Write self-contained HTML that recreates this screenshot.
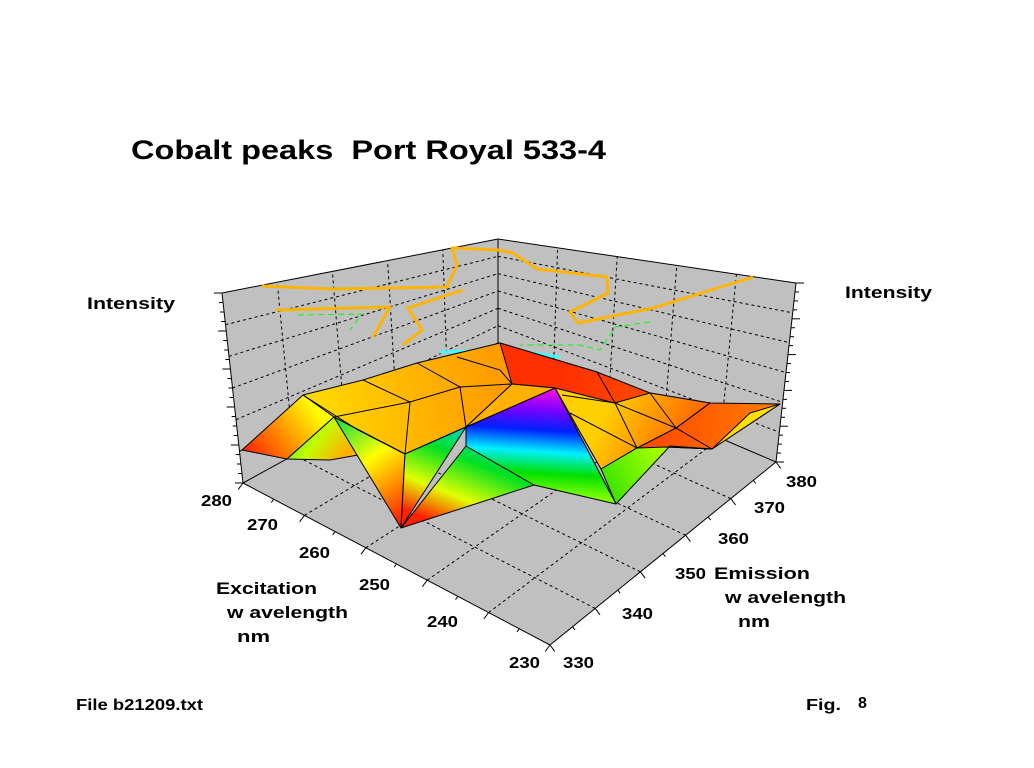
<!DOCTYPE html>
<html><head><meta charset="utf-8"><style>
html,body{margin:0;padding:0;background:#fff;}
svg{display:block;font-family:"Liberation Sans",Arial,sans-serif;font-weight:bold;}
</style></head><body>
<svg id="s" width="1034" height="768" viewBox="0 0 1034 768" xmlns="http://www.w3.org/2000/svg">
<defs>
<linearGradient id="gPeak" x1="555" y1="388" x2="548" y2="495" gradientUnits="userSpaceOnUse">
<stop offset="0" stop-color="#ff10e0"/><stop offset="0.2" stop-color="#8000ff"/><stop offset="0.4" stop-color="#0020ff"/><stop offset="0.6" stop-color="#00f0ff"/><stop offset="0.8" stop-color="#00e000"/><stop offset="1" stop-color="#80ff00"/></linearGradient>
<linearGradient id="gGreenLow" x1="470" y1="420" x2="430" y2="520" gradientUnits="userSpaceOnUse">
<stop offset="0" stop-color="#00d0ff"/><stop offset="0.35" stop-color="#00e020"/><stop offset="0.7" stop-color="#e0ff00"/><stop offset="1" stop-color="#ff2000"/></linearGradient>
<linearGradient id="gValley" x1="340" y1="420" x2="410" y2="520" gradientUnits="userSpaceOnUse">
<stop offset="0" stop-color="#20e040"/><stop offset="0.4" stop-color="#ffff00"/><stop offset="1" stop-color="#ff1000"/></linearGradient>
<linearGradient id="gLeft" x1="242" y1="450" x2="310" y2="400" gradientUnits="userSpaceOnUse">
<stop offset="0" stop-color="#ff2000"/><stop offset="0.5" stop-color="#ff9000"/><stop offset="1" stop-color="#ffff00"/></linearGradient>
<linearGradient id="gBack" x1="300" y1="420" x2="560" y2="380" gradientUnits="userSpaceOnUse">
<stop offset="0" stop-color="#ffe000"/><stop offset="0.5" stop-color="#ffb000"/><stop offset="1" stop-color="#ff8c00"/></linearGradient>
<linearGradient id="gRight" x1="560" y1="390" x2="780" y2="420" gradientUnits="userSpaceOnUse">
<stop offset="0" stop-color="#ff3000"/><stop offset="0.5" stop-color="#ff5000"/><stop offset="1" stop-color="#ff8000"/></linearGradient>
<linearGradient id="gRY" x1="600" y1="420" x2="700" y2="470" gradientUnits="userSpaceOnUse">
<stop offset="0" stop-color="#ffd000"/><stop offset="0.6" stop-color="#ff8000"/><stop offset="1" stop-color="#ff5000"/></linearGradient>
<linearGradient id="gGR" x1="600" y1="490" x2="720" y2="430" gradientUnits="userSpaceOnUse">
<stop offset="0" stop-color="#30e000"/><stop offset="0.5" stop-color="#a0ff00"/><stop offset="1" stop-color="#ffe000"/></linearGradient>
<linearGradient id="gG2" x1="290" y1="420" x2="340" y2="460" gradientUnits="userSpaceOnUse">
<stop offset="0" stop-color="#00e060"/><stop offset="0.5" stop-color="#c0ff00"/><stop offset="1" stop-color="#ffb000"/></linearGradient>
</defs>
<g id="walls"></g>
<g id="surf"></g>
<g id="txt" fill="#000" font-size="17">
<text x="131" y="159" font-size="27" textLength="475" lengthAdjust="spacingAndGlyphs" xml:space="preserve">Cobalt peaks  Port Royal 533-4</text>
<text x="87" y="309" textLength="88" lengthAdjust="spacingAndGlyphs">Intensity</text>
<text x="845" y="298" textLength="87" lengthAdjust="spacingAndGlyphs">Intensity</text>
<text x="216" y="594" textLength="101" lengthAdjust="spacingAndGlyphs">Excitation</text>
<text x="227" y="618" textLength="121" lengthAdjust="spacingAndGlyphs" xml:space="preserve">w avelength</text>
<text x="237" y="642" textLength="33" lengthAdjust="spacingAndGlyphs">nm</text>
<text x="714" y="579" textLength="96" lengthAdjust="spacingAndGlyphs">Emission</text>
<text x="725" y="603" textLength="121" lengthAdjust="spacingAndGlyphs" xml:space="preserve">w avelength</text>
<text x="738" y="627" textLength="32" lengthAdjust="spacingAndGlyphs">nm</text>
<g font-size="16">
<text x="201" y="506" textLength="31" lengthAdjust="spacingAndGlyphs">280</text>
<text x="247" y="530" textLength="31" lengthAdjust="spacingAndGlyphs">270</text>
<text x="299" y="558" textLength="31" lengthAdjust="spacingAndGlyphs">260</text>
<text x="359" y="590" textLength="31" lengthAdjust="spacingAndGlyphs">250</text>
<text x="427" y="627" textLength="31" lengthAdjust="spacingAndGlyphs">240</text>
<text x="509" y="668" textLength="31" lengthAdjust="spacingAndGlyphs">230</text>
<text x="563" y="668" textLength="31" lengthAdjust="spacingAndGlyphs">330</text>
<text x="622" y="619" textLength="31" lengthAdjust="spacingAndGlyphs">340</text>
<text x="675" y="579" textLength="31" lengthAdjust="spacingAndGlyphs">350</text>
<text x="718" y="544" textLength="31" lengthAdjust="spacingAndGlyphs">360</text>
<text x="754" y="513" textLength="31" lengthAdjust="spacingAndGlyphs">370</text>
<text x="786" y="487" textLength="31" lengthAdjust="spacingAndGlyphs">380</text>
<text x="76" y="710" textLength="127" lengthAdjust="spacingAndGlyphs">File b21209.txt</text>
<text x="806" y="710" textLength="35" lengthAdjust="spacingAndGlyphs">Fig.</text>
<text x="858" y="708">8</text>
</g>
</g>
</svg>
<script>
(function(){
var NS="http://www.w3.org/2000/svg";
function el(p,t,a){var e=document.createElementNS(NS,t);for(var k in a)e.setAttribute(k,a[k]);p.appendChild(e);return e;}
var W=document.getElementById('walls'),S=document.getElementById('surf');
var L=[243,483],B=[498,343],R=[776,462],F=[550,645];
var Lt=[222,293],Bt=[498,239],Rt=[796,283];
function lerp(a,b,t){return [a[0]+(b[0]-a[0])*t,a[1]+(b[1]-a[1])*t];}
function pts(a){return a.map(function(p){return p[0].toFixed(1)+','+p[1].toFixed(1)}).join(' ');}
el(W,'polygon',{points:pts([L,B,R,F]),fill:'#c0c0c0'});
el(W,'polygon',{points:pts([L,Lt,Bt,B]),fill:'#c0c0c0'});
el(W,'polygon',{points:pts([B,Bt,Rt,R]),fill:'#c0c0c0'});
var dash={stroke:'#000','stroke-width':1,'stroke-dasharray':'3,3',fill:'none'};
function line(a,b,at){var o={x1:a[0],y1:a[1],x2:b[0],y2:b[1]};for(var k in at)o[k]=at[k];el(W,'line',o);}
var n=5;
for(var i=1;i<n;i++){var t=i/n;
 line(lerp(L,F,t),lerp(B,R,t),dash);
 line(lerp(F,R,t),lerp(L,B,t),dash);
 line(lerp(L,B,t),lerp(Lt,Bt,t),dash);
 line(lerp(B,R,t),lerp(Bt,Rt,t),dash);
}
for(var j=1;j<6;j++){var t=j/6;
 var a=lerp(L,Lt,t),b=lerp(B,Bt,t),c=lerp(R,Rt,t);
 line(a,b,dash);line(b,c,dash);}
var solid={stroke:'#000','stroke-width':1};
line(Lt,Bt,solid);line(Bt,Rt,solid);line(B,Bt,solid);line(L,Lt,solid);line(R,Rt,solid);
line(L,F,solid);line(F,R,solid);line(L,B,solid);line(B,R,solid);
for(var k=0;k<=20;k++){var t=k/20;var p=lerp(L,Lt,t);var len=(k%4==0)?8:4;line([p[0]-len,p[1]],p,solid);
 var q=lerp(R,Rt,t);line(q,[q[0]+len,q[1]],solid);}
for(var k=0;k<=10;k++){var t=k/10,len=(k%2==0)?8:4;var p=lerp(L,F,t);line(p,[p[0]-len*0.6,p[1]+len*0.8],solid);
 var q=lerp(F,R,t);line(q,[q[0]+len*0.6,q[1]+len*0.8],solid);}
function pl(arr,col,w,da){var o={points:pts(arr),fill:'none',stroke:col,'stroke-width':w,'stroke-linejoin':'round'};if(da)o['stroke-dasharray']=da;el(W,'polyline',o);}
pl([[262,286],[332,289],[447,287],[457,265],[452,248],[498,250],[513,253],[537,269],[607,277],[608,293],[570,312],[578,323],[653,308],[753,277]],'#ffb400',3);
pl([[276,310],[390,307],[373,337]],'#ffb400',3);
pl([[463,290],[408,308],[422,330],[403,345]],'#ffb400',3);
pl([[298,315],[362,314],[350,330]],'#00ff00',1,'6,4');
pl([[650,322],[615,327],[600,350],[580,345],[520,345]],'#00ff00',1,'6,4');
pl([[440,352],[510,350],[560,357]],'#40ffff',3);
function poly(arr,fill){el(S,'polygon',{points:pts(arr),fill:fill,stroke:'#000','stroke-width':1,'stroke-linejoin':'round'});}
poly([[303,395],[363,380],[417,363],[500,343],[597,372],[562,395],[512,384],[466,427],[405,454],[334,417]],'url(#gBack)');
poly([[500,343],[597,372],[650,393],[710,403],[780,404],[712,449],[667,447],[601,469],[555,388],[512,384]],'url(#gRight)');
poly([[555,388],[615,403],[650,393],[710,403],[676,428],[637,448],[601,469]],'url(#gRY)');
poly([[601,469],[637,448],[667,447],[712,449],[780,404],[750,413],[712,449],[670,446],[616,504]],'url(#gGR)');
poly([[242,450],[303,395],[334,417],[287,459]],'url(#gLeft)');
poly([[287,459],[334,417],[358,455],[330,460]],'url(#gG2)');
poly([[334,417],[405,454],[401,528]],'url(#gValley)');
poly([[405,454],[466,427],[401,528]],'url(#gGreenLow)');
poly([[466,446],[534,485],[401,528]],'url(#gGreenLow)');
poly([[466,427],[555,388],[616,504],[534,485],[466,446]],'url(#gPeak)');
poly([[466,427],[512,384],[555,388]],'#ffb000');
// mesh lines
function ml(arr){el(S,'polyline',{points:pts(arr),fill:'none',stroke:'#000','stroke-width':1});}
ml([[334,417],[410,402],[460,387],[512,384]]);
ml([[363,380],[410,402],[405,454]]);
ml([[417,363],[460,387],[466,427]]);
ml([[303,395],[358,430],[405,454]]);
ml([[457,357],[500,370],[512,384]]);
ml([[562,395],[615,403],[676,428],[712,449]]);
ml([[597,372],[615,403],[637,448]]);
ml([[650,393],[676,428]]);
ml([[570,413],[637,448]]);
ml([[710,403],[676,428]]);
})();
</script>
</body></html>
